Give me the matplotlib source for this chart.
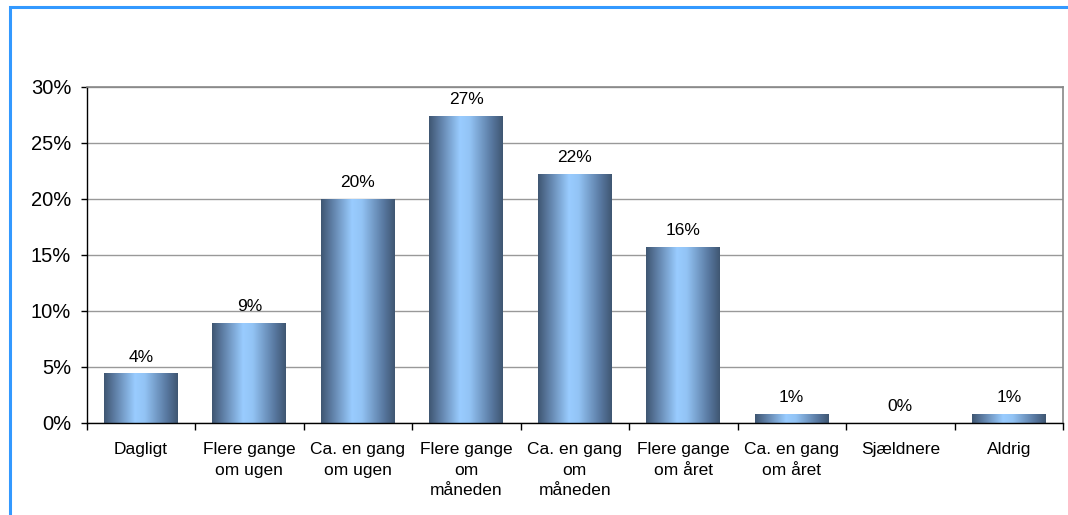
import numpy as np
import matplotlib
matplotlib.use("Agg")
import matplotlib.pyplot as plt
from matplotlib.colors import LinearSegmentedColormap
from matplotlib.patches import Rectangle
from matplotlib.ticker import FixedLocator, PercentFormatter

plt.rcParams["font.family"] = ["Liberation Sans", "DejaVu Sans"]

# svarfordeling i procent
categories = ["Dagligt", "Flere gange\nom ugen", "Ca. en gang\nom ugen",
              "Flere gange\nom\nmåneden", "Ca. en gang\nom\nmåneden",
              "Flere gange\nom året", "Ca. en gang\nom året", "Sjældnere", "Aldrig"]
values = [4.4, 8.9, 20.0, 27.4, 22.2, 15.7, 0.8, 0.0, 0.8]
yticks = [0, 5, 10, 15, 20, 25, 30]

W, H = 1068, 515
fig = plt.figure(figsize=(W / 100, H / 100), dpi=100)
ax = fig.add_axes([86.5 / W, 1 - 423 / H, (1063 - 86.5) / W, (423 - 87) / H])

# blå ramme omkring diagrammet
fig.patches.append(Rectangle((10 / W, -0.2), 1.2, 1 - 7 / H + 0.2,
                             transform=fig.transFigure, fill=False,
                             edgecolor="#3399ff", linewidth=2.2, zorder=0))

x = np.arange(len(categories))
bars = ax.bar(x, values, width=0.68, color="none", zorder=2)

# vandret gradient i søjlerne
cmap = LinearSegmentedColormap.from_list(
    "bar", [(0, "#3f5672"), (0.15, "#5f7fa6"), (0.42, "#99ccff"),
            (0.55, "#93c4f5"), (0.85, "#5878a0"), (1, "#3f5672")])
grad = np.linspace(0, 1, 256).reshape(1, -1)
for b, v in zip(bars, values):
    if v > 0:
        ax.imshow(grad, cmap=cmap, aspect="auto", interpolation="bilinear",
                  extent=[b.get_x(), b.get_x() + b.get_width(), 0, v], zorder=2)
    ax.annotate(f"{v:.0f}%", (b.get_x() + b.get_width() / 2, v),
                xytext=(0, 6.5), textcoords="offset points",
                ha="center", va="bottom", fontsize=12.5)

ax.set_xlim(-0.5, len(categories) - 0.5)
ax.set_ylim(0, 30)
ax.set_yticks(yticks)
ax.yaxis.set_major_formatter(PercentFormatter(decimals=0))
ax.tick_params(axis="y", labelsize=14.5, length=4.5, width=1, pad=6.5)

ax.set_xticks(x)
ax.set_xticklabels(categories, fontsize=12.5, linespacing=1.45)
ax.tick_params(axis="x", which="major", length=0, pad=14)
ax.xaxis.set_minor_locator(FixedLocator(np.arange(-0.5, len(categories), 1)))
ax.tick_params(axis="x", which="minor", length=5, width=1, direction="out")

ax.yaxis.grid(True, color="#999999", linewidth=1)
ax.set_axisbelow(True)
for s in ["top", "right"]:
    ax.spines[s].set_color("#888888")
    ax.spines[s].set_linewidth(1.2)
for s in ["left", "bottom"]:
    ax.spines[s].set_color("black")
    ax.spines[s].set_linewidth(1)

fig.savefig("out.png", dpi=100)
